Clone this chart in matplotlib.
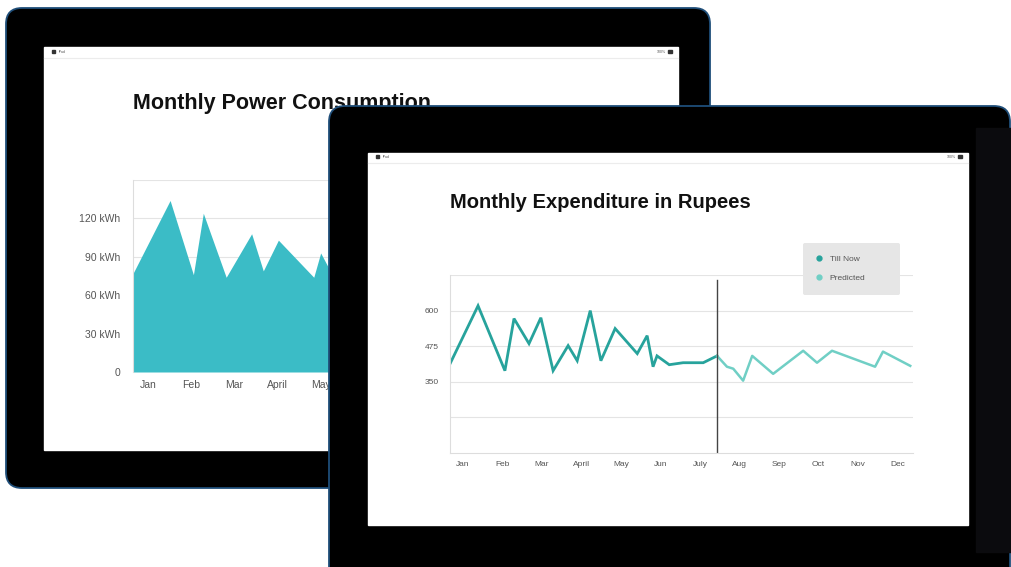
import matplotlib.pyplot as plt
from matplotlib.patches import FancyBboxPatch, Rectangle
from matplotlib.lines import Line2D

plt.rcParams['font.family'] = ['Liberation Sans', 'DejaVu Sans']

W, H = 1011, 567

# Chart 1: monthly power consumption (x in month units, Jan = 0)
power_x = [-0.35, 0.51, 1.05, 1.28, 1.81, 2.40, 2.67, 3.02, 3.84, 4.00, 4.19,
           4.70, 5.30, 5.80, 6.40, 7.00, 7.50, 8.10, 8.70, 9.30, 9.90, 10.50,
           11.10, 11.75]
power_kwh = [77, 134, 76, 124, 74, 108, 79, 103, 74, 93, 81,
             98, 76, 110, 82, 95, 72, 104, 80, 92, 75, 101, 84, 90]
power_months = ['Jan', 'Feb', 'Mar', 'April', 'May', 'Jun', 'July', 'Aug',
                'Sep', 'Oct', 'Nov', 'Dec']
power_ticks = [0, 30, 60, 90, 120]
power_labels = ['0', '30 kWh', '60 kWh', '90 kWh', '120 kWh']

# Chart 2: monthly expenditure
spent_x = [-0.33, 0.38, 1.06, 1.29, 1.67, 1.97, 2.28, 2.66, 2.89, 3.22, 3.49,
           3.85, 4.41, 4.66, 4.81, 4.91, 5.22, 5.57, 6.08, 6.43]
spent_y = [413, 617, 389, 572, 484, 575, 389, 477, 424, 600, 424,
           537, 449, 512, 403, 441, 410, 417, 417, 441]
pred_x = [6.43, 6.68, 6.84, 7.09, 7.32, 7.85, 8.61, 8.96, 9.34, 10.43, 10.63, 11.32]
pred_y = [441, 403, 396, 354, 441, 378, 459, 417, 459, 403, 456, 406]
spent_months = ['Jan', 'Feb', 'Mar', 'April', 'May', 'Jun', 'July', 'Aug',
                'Sep', 'Oct', 'Nov', 'Dec']
spent_ticks = [225, 350, 475, 600, 725]
spent_labels = ['', '350', '475', '600', '']
today_x = 6.43


def rect(x0, y0, x1, y1):
    return [x0 / W, 1 - y1 / H, (x1 - x0) / W, (y1 - y0) / H]


def device_layer(z):
    a = fig.add_axes([0, 0, 1, 1], zorder=z)
    a.set_xlim(0, W)
    a.set_ylim(H, 0)
    a.axis('off')
    a.patch.set_alpha(0)
    return a


def status_bar(a, x0, x1, y):
    a.add_patch(Rectangle((x0 + 8, y - 2), 3, 3, color='#333333'))
    a.text(x0 + 15, y, 'iPad', fontsize=2.5, color='#555555', va='center')
    a.text(x1 - 12, y, '100%', fontsize=2.5, color='#555555', va='center', ha='right')
    a.add_patch(Rectangle((x1 - 10, y - 2), 4, 3, color='#333333'))
    a.plot([x0, x1], [y + 6, y + 6], color='#ececec', lw=0.8)


fig = plt.figure(figsize=(W / 100, H / 100), dpi=100)

# first tablet
bg1 = device_layer(0)
bg1.add_patch(FancyBboxPatch((6, 8), 704, 480, boxstyle='round,pad=0,rounding_size=16',
                             fc='black', ec='#1f4e79', lw=1.3))
bg1.add_patch(Rectangle((44, 47), 634, 403, color='white'))
status_bar(bg1, 44, 678, 52)

ax1 = fig.add_axes(rect(133, 180, 655, 372), zorder=1)
ax1.fill_between(power_x, power_kwh, 0, color='#3bbcc6', lw=0)
ax1.set_xlim(-0.35, 11.75)
ax1.set_ylim(0, 150)
ax1.set_yticks(power_ticks, power_labels)
ax1.set_xticks(range(len(power_months)), power_months)
ax1.grid(axis='y', color='#e4e4e4', lw=0.8)
ax1.axhline(150, color='#e4e4e4', lw=0.8)
ax1.set_axisbelow(True)
for s in ['top', 'right', 'bottom']:
    ax1.spines[s].set_visible(False)
ax1.spines['left'].set_color('#dddddd')
ax1.tick_params(length=0, labelsize=7.5, labelcolor='#555555')
ax1.tick_params(axis='y', pad=9)
ax1.tick_params(axis='x', pad=6)
ax1.text(133 / W, 1 - 104 / H, 'Monthly Power Consumption', transform=fig.transFigure,
         fontsize=15.5, fontweight='bold', color='#111111', va='center')

# second tablet
bg2 = device_layer(2)
bg2.add_patch(FancyBboxPatch((329, 106), 681, 490, boxstyle='round,pad=0,rounding_size=16',
                             fc='black', ec='#1f4e79', lw=1.3))
bg2.add_patch(Rectangle((976, 128), 35, 424, color='#0b0b0e'))
bg2.add_patch(Rectangle((368, 153), 600, 372, color='white'))
status_bar(bg2, 368, 968, 157)

ax2 = fig.add_axes(rect(450, 275, 913, 453), zorder=3)
ax2.plot(spent_x, spent_y, color='#27a39c', lw=2, solid_joinstyle='miter')
ax2.plot(pred_x, pred_y, color='#70cfc5', lw=1.8)
ax2.axvline(today_x, ymax=0.97, color='#444444', lw=1)
ax2.set_xlim(-0.33, 11.39)
ax2.set_ylim(100, 725)
ax2.set_yticks(spent_ticks, spent_labels)
ax2.set_xticks(range(len(spent_months)), spent_months)
ax2.grid(axis='y', color='#e4e4e4', lw=0.8)
ax2.set_axisbelow(True)
for s in ['top', 'right']:
    ax2.spines[s].set_visible(False)
ax2.spines['left'].set_color('#dddddd')
ax2.spines['bottom'].set_color('#dddddd')
ax2.tick_params(length=0, labelsize=6, labelcolor='#555555')
ax2.tick_params(axis='y', pad=8)
ax2.tick_params(axis='x', pad=6)
ax2.text(450 / W, 1 - 203 / H, 'Monthly Expenditure in Rupees', transform=fig.transFigure,
         fontsize=14.5, fontweight='bold', color='#111111', va='center')

handles = [Line2D([], [], ls='none', marker='o', ms=3.5, color='#27a39c', label='Till Now'),
           Line2D([], [], ls='none', marker='o', ms=3.5, color='#70cfc5', label='Predicted')]
leg = ax2.legend(handles=handles, loc='upper left', mode='expand',
                 bbox_to_anchor=(803 / W, 1 - 295 / H, 97 / W, 52 / H),
                 bbox_transform=fig.transFigure, fontsize=6, frameon=True,
                 facecolor='#e6e6e6', edgecolor='none', framealpha=1, fancybox=True,
                 borderpad=1.5, handlelength=0.8, handletextpad=0.9, labelspacing=1.3,
                 borderaxespad=0)
for t in leg.get_texts():
    t.set_color('#555555')

plt.savefig('out.png', dpi=100)
